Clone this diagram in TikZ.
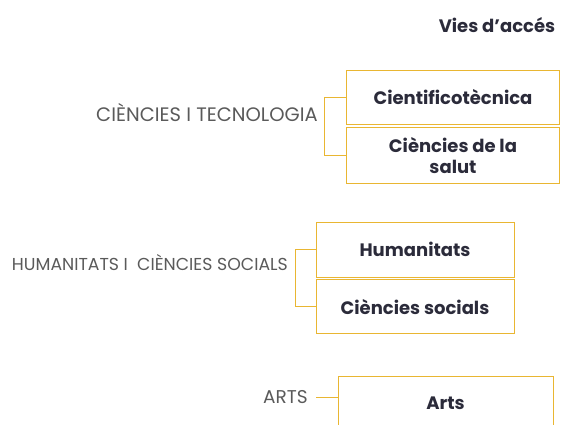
\documentclass[tikz,border=0pt]{standalone}
\usepackage{fontspec}
\setmainfont{Poppins}
\usetikzlibrary{positioning}
\definecolor{gold}{HTML}{E9B632}
\definecolor{ink}{HTML}{2B2B3A}
\definecolor{greytext}{HTML}{5A5A5A}
\tikzset{
  via/.style={draw=gold, line width=0.9pt, text=ink, font=\bfseries\fontsize{18}{21}\selectfont,
    align=center, minimum width=213pt, minimum height=54pt, inner sep=2pt},
  area/.style={text=greytext, font=\fontsize{18.5}{20}\selectfont, inner sep=0pt, anchor=east},
  link/.style={draw=gold, line width=0.9pt}
}
\begin{document}
\begin{tikzpicture}[x=1pt, y=-1pt]
\useasboundingbox (0,0) rectangle (566,425);
\node[font=\bfseries\fontsize{18}{20}\selectfont, text=ink] (title) at (497,25) {Vies d’accés};
% ciencies i tecnologia
\node[via] (cient) at (453,97) {Cientificotècnica};
\node[via, below=3pt of cient, minimum height=56pt] (salut) {Ciències de la\\salut};
\node[area, font=\fontsize{19.5}{21}\selectfont] (tecno) at (318,113) {CIÈNCIES I TECNOLOGIA};
\draw[link] (cient.west) -- ++(-22,0) |- (salut.west);
% humanitats
\node[via, minimum width=198pt, minimum height=55pt] (human) at (415,249.5) {Humanitats};
\node[via, minimum width=198pt, below=2pt of human] (socials) {Ciències socials};
\node[area, font=\fontsize{17.3}{19}\selectfont] (humsoc) at (288,263) {HUMANITATS I\ \ CIÈNCIES SOCIALS};
\draw[link] (human.west) -- ++(-20,0) |- (socials.west);
% arts
\node[via, minimum width=215pt, minimum height=54pt, anchor=north] (arts) at (445.5,376) {Arts};
\node[area] (artslbl) at (308,397) {ARTS};
\draw[link] (artslbl.east) ++(8,0) coordinate (artsend) -- (artsend -| arts.west);
\end{tikzpicture}
\end{document}
